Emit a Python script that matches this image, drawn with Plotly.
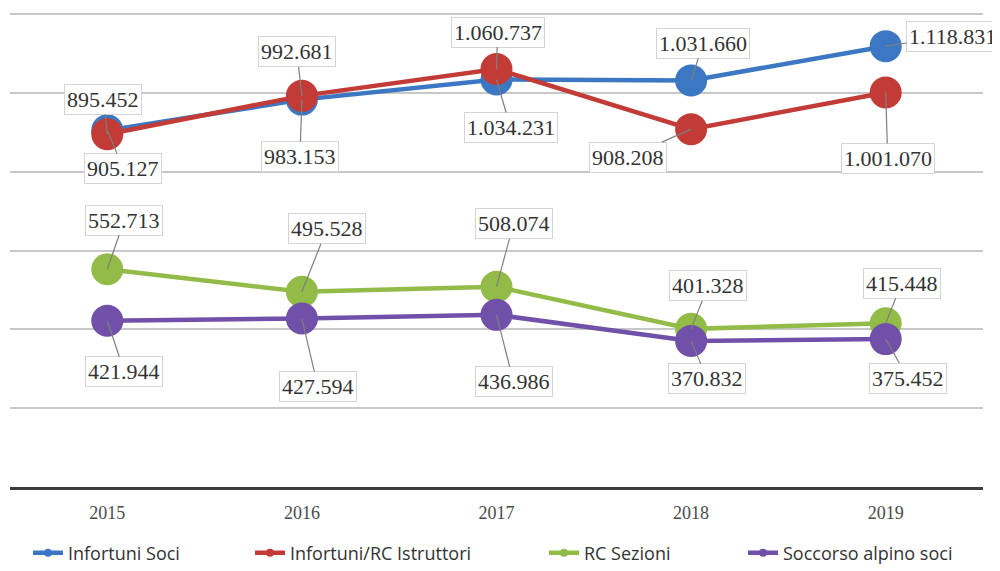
import plotly.graph_objects as go

years = [2015, 2016, 2017, 2018, 2019]
infortuni_soci = [905127, 983153, 1034231, 1031660, 1118831]
infortuni_rc_istruttori = [895452, 992681, 1060737, 908208, 1001070]
rc_sezioni = [552713, 495528, 508074, 401328, 415448]
soccorso_alpino_soci = [421944, 427594, 436986, 370832, 375452]

series_names = ["Infortuni Soci", "Infortuni/RC Istruttori", "RC Sezioni", "Soccorso alpino soci"]
series_values = [infortuni_soci, infortuni_rc_istruttori, rc_sezioni, soccorso_alpino_soci]
colors = ["#3b77c3", "#c33b36", "#92bb47", "#7050a8"]

# label offsets (pixels) relative to each point: (ax, ay)
label_offsets = [
    [(16, 38), (-2, 57), (14, 48), (12, -37), (67, -10)],
    [(-4, -35), (-5, -44), (1, -37), (-63, 28), (2, 66)],
    [(17, -49), (25, -63), (17, -63), (17, -43), (16, -40)],
    [(17, 51), (16, 68), (17, 67), (16, 38), (22, 39)],
]


def fmt(v):
    return f"{v:,}".replace(",", ".")


fig = go.Figure()
for name, vals, col in zip(series_names, series_values, colors):
    fig.add_trace(go.Scatter(
        x=years, y=vals, mode="lines+markers", name=name,
        line=dict(color=col, width=4.5),
        marker=dict(color=col, size=32),
        showlegend=False, hoverinfo="skip",
    ))

# legend entries (small markers like the reference)
legend_keys = ["legend", "legend2", "legend3", "legend4"]
for name, col, lk in zip(series_names, colors, legend_keys):
    fig.add_trace(go.Scatter(
        x=[None], y=[None], mode="lines+markers", name=name,
        line=dict(color=col, width=4.5), marker=dict(color=col, size=8),
        showlegend=True, legend=lk,
    ))

annotations = []
for vals, offs in zip(series_values, label_offsets):
    for yr, v, (ax, ay) in zip(years, vals, offs):
        annotations.append(dict(
            x=yr, y=v, xref="x", yref="y", text=fmt(v),
            showarrow=True, arrowhead=0, arrowwidth=1.2, arrowcolor="#7f7f7f",
            ax=ax, ay=ay, standoff=0,
            font=dict(family="Liberation Serif", size=22, color="#333333"),
            bgcolor="white", bordercolor="#d4d4d4", borderwidth=1, borderpad=2,
        ))

# page body has an 8px margin, so the figure is drawn 8px smaller and shifted
W, H = 992, 563
ml, mr, mt, mb = 2, 17, 5, 84

leg_y = 1 - 545 / H
legend_left_px = [20, 242, 536, 735]
legend_font = dict(family="Open Sans", size=18, color="#333333")
legend_common = dict(orientation="h", yanchor="middle", xanchor="left", y=leg_y,
                     xref="container", yref="container",
                     bgcolor="rgba(0,0,0,0)", borderwidth=0, font=legend_font)

fig.update_layout(
    width=W, height=H,
    margin=dict(l=ml, r=mr, t=mt, b=mb, autoexpand=False),
    plot_bgcolor="white", paper_bgcolor="white",
    annotations=annotations,
    legend=dict(x=legend_left_px[0] / W, **legend_common),
    legend2=dict(x=legend_left_px[1] / W, **legend_common),
    legend3=dict(x=legend_left_px[2] / W, **legend_common),
    legend4=dict(x=legend_left_px[3] / W, **legend_common),
)
fig.update_xaxes(
    range=[2014.5, 2019.5], tickmode="array", tickvals=years,
    ticktext=[str(y) for y in years],
    showgrid=False, showline=True, linecolor="#3c3c3c", linewidth=2.5,
    ticks="", ticklabelstandoff=8, zeroline=False,
    tickfont=dict(family="Liberation Serif", size=18, color="#4a4a4a"),
)
fig.update_yaxes(
    range=[0, 1203000], dtick=200000, showticklabels=False,
    showgrid=True, gridcolor="#c8c8c8", gridwidth=1.5, zeroline=False,
)

fig.write_html("out.html")
